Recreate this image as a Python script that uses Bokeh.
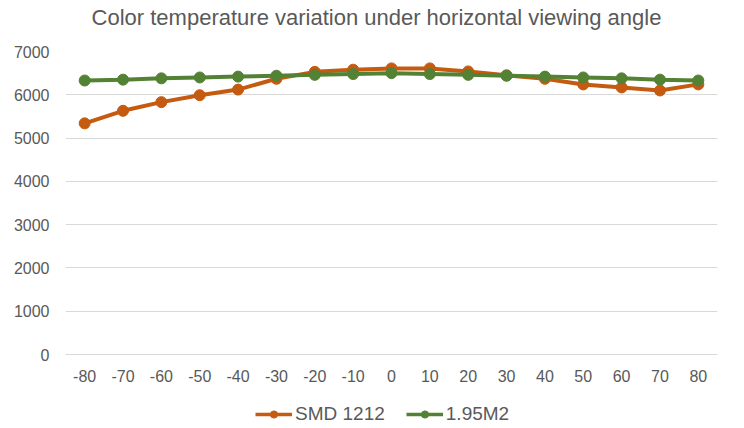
from bokeh.plotting import figure
from bokeh.layouts import column
from bokeh.models import Legend, LegendItem, Range1d, FixedTicker, Label
from bokeh.embed import file_html
from bokeh.resources import INLINE

angles = ["-80", "-70", "-60", "-50", "-40", "-30", "-20", "-10", "0",
          "10", "20", "30", "40", "50", "60", "70", "80"]
smd1212 = [5340, 5630, 5830, 5990, 6120, 6370, 6530, 6580, 6610,
           6610, 6540, 6450, 6370, 6240, 6170, 6100, 6240]
m195 = [6330, 6350, 6380, 6400, 6420, 6440, 6460, 6480, 6500,
        6480, 6460, 6440, 6420, 6400, 6380, 6350, 6330]
y_ticks = [0, 1000, 2000, 3000, 4000, 5000, 6000, 7000]
series_names = ["SMD 1212", "1.95M2"]
title_text = "Color temperature variation under horizontal viewing angle"

FONT = "Liberation Sans"
ORANGE = "#C55A11"
GREEN = "#548235"
TXT = "#595959"

# title strip
tf = figure(width=740, height=34, x_range=Range1d(0, 1), y_range=Range1d(0, 1),
            output_backend="svg", toolbar_location=None,
            x_axis_location=None, y_axis_location=None,
            min_border_left=0, min_border_right=0,
            min_border_top=0, min_border_bottom=0)
tf.grid.grid_line_color = None
tf.outline_line_color = None
tf.add_layout(Label(x=311, y=17, x_units="screen", y_units="screen",
                    text=title_text, text_align="center", text_baseline="middle",
                    text_font=FONT, text_font_size="22px", text_color=TXT))

# main chart
p = figure(x_range=angles, y_range=Range1d(0, 7000), width=740, height=364,
           output_backend="svg", toolbar_location=None,
           min_border_left=65, min_border_right=23,
           min_border_top=17, min_border_bottom=44)
p.outline_line_color = None

p.line(angles, smd1212, line_color=ORANGE, line_width=4)
p.scatter(angles, smd1212, size=11, fill_color=ORANGE, line_color=ORANGE)
p.line(angles, m195, line_color=GREEN, line_width=4)
p.scatter(angles, m195, size=11, fill_color=GREEN, line_color=GREEN)

p.yaxis.ticker = FixedTicker(ticks=y_ticks)
p.yaxis.axis_line_color = None
p.yaxis.major_tick_line_color = None
p.yaxis.minor_tick_line_color = None
p.yaxis.major_tick_out = 0
p.yaxis.minor_tick_out = 0
p.yaxis.major_label_text_font = FONT
p.yaxis.major_label_text_font_size = "16px"
p.yaxis.major_label_text_color = TXT
p.yaxis.major_label_standoff = 16

p.xaxis.axis_line_color = "#D9D9D9"
p.xaxis.major_tick_line_color = None
p.xaxis.major_tick_out = 0
p.xaxis.major_label_text_font = FONT
p.xaxis.major_label_text_font_size = "16px"
p.xaxis.major_label_text_color = TXT
p.xaxis.major_label_standoff = 15

p.xgrid.grid_line_color = None
p.ygrid.grid_line_color = "#D9D9D9"

# legend strip below the chart
lg = figure(width=740, height=28, x_range=Range1d(0, 1), y_range=Range1d(0, 1),
            output_backend="svg", toolbar_location=None,
            x_axis_location=None, y_axis_location=None,
            min_border_left=0, min_border_right=0,
            min_border_top=0, min_border_bottom=0)
lg.grid.grid_line_color = None
lg.outline_line_color = None
off_x = [5, 6]
off_y = [5, 5]
l1 = lg.line(off_x, off_y, line_color=ORANGE, line_width=3.5)
m1 = lg.scatter(off_x, off_y, size=8, fill_color=ORANGE, line_color=ORANGE)
l2 = lg.line(off_x, off_y, line_color=GREEN, line_width=3.5)
m2 = lg.scatter(off_x, off_y, size=8, fill_color=GREEN, line_color=GREEN)

legend = Legend(items=[LegendItem(label=series_names[0], renderers=[l1, m1]),
                       LegendItem(label=series_names[1], renderers=[l2, m2])],
                orientation="horizontal", location=(190, 1),
                label_text_font=FONT, label_text_font_size="19px",
                label_text_color=TXT, border_line_color=None,
                background_fill_alpha=0,
                glyph_width=37, glyph_height=18, spacing=21, label_standoff=3,
                margin=0, padding=2)
lg.add_layout(legend)

layout = column(tf, p, lg, spacing=0)
open("out.html", "w").write(file_html(layout, INLINE))
